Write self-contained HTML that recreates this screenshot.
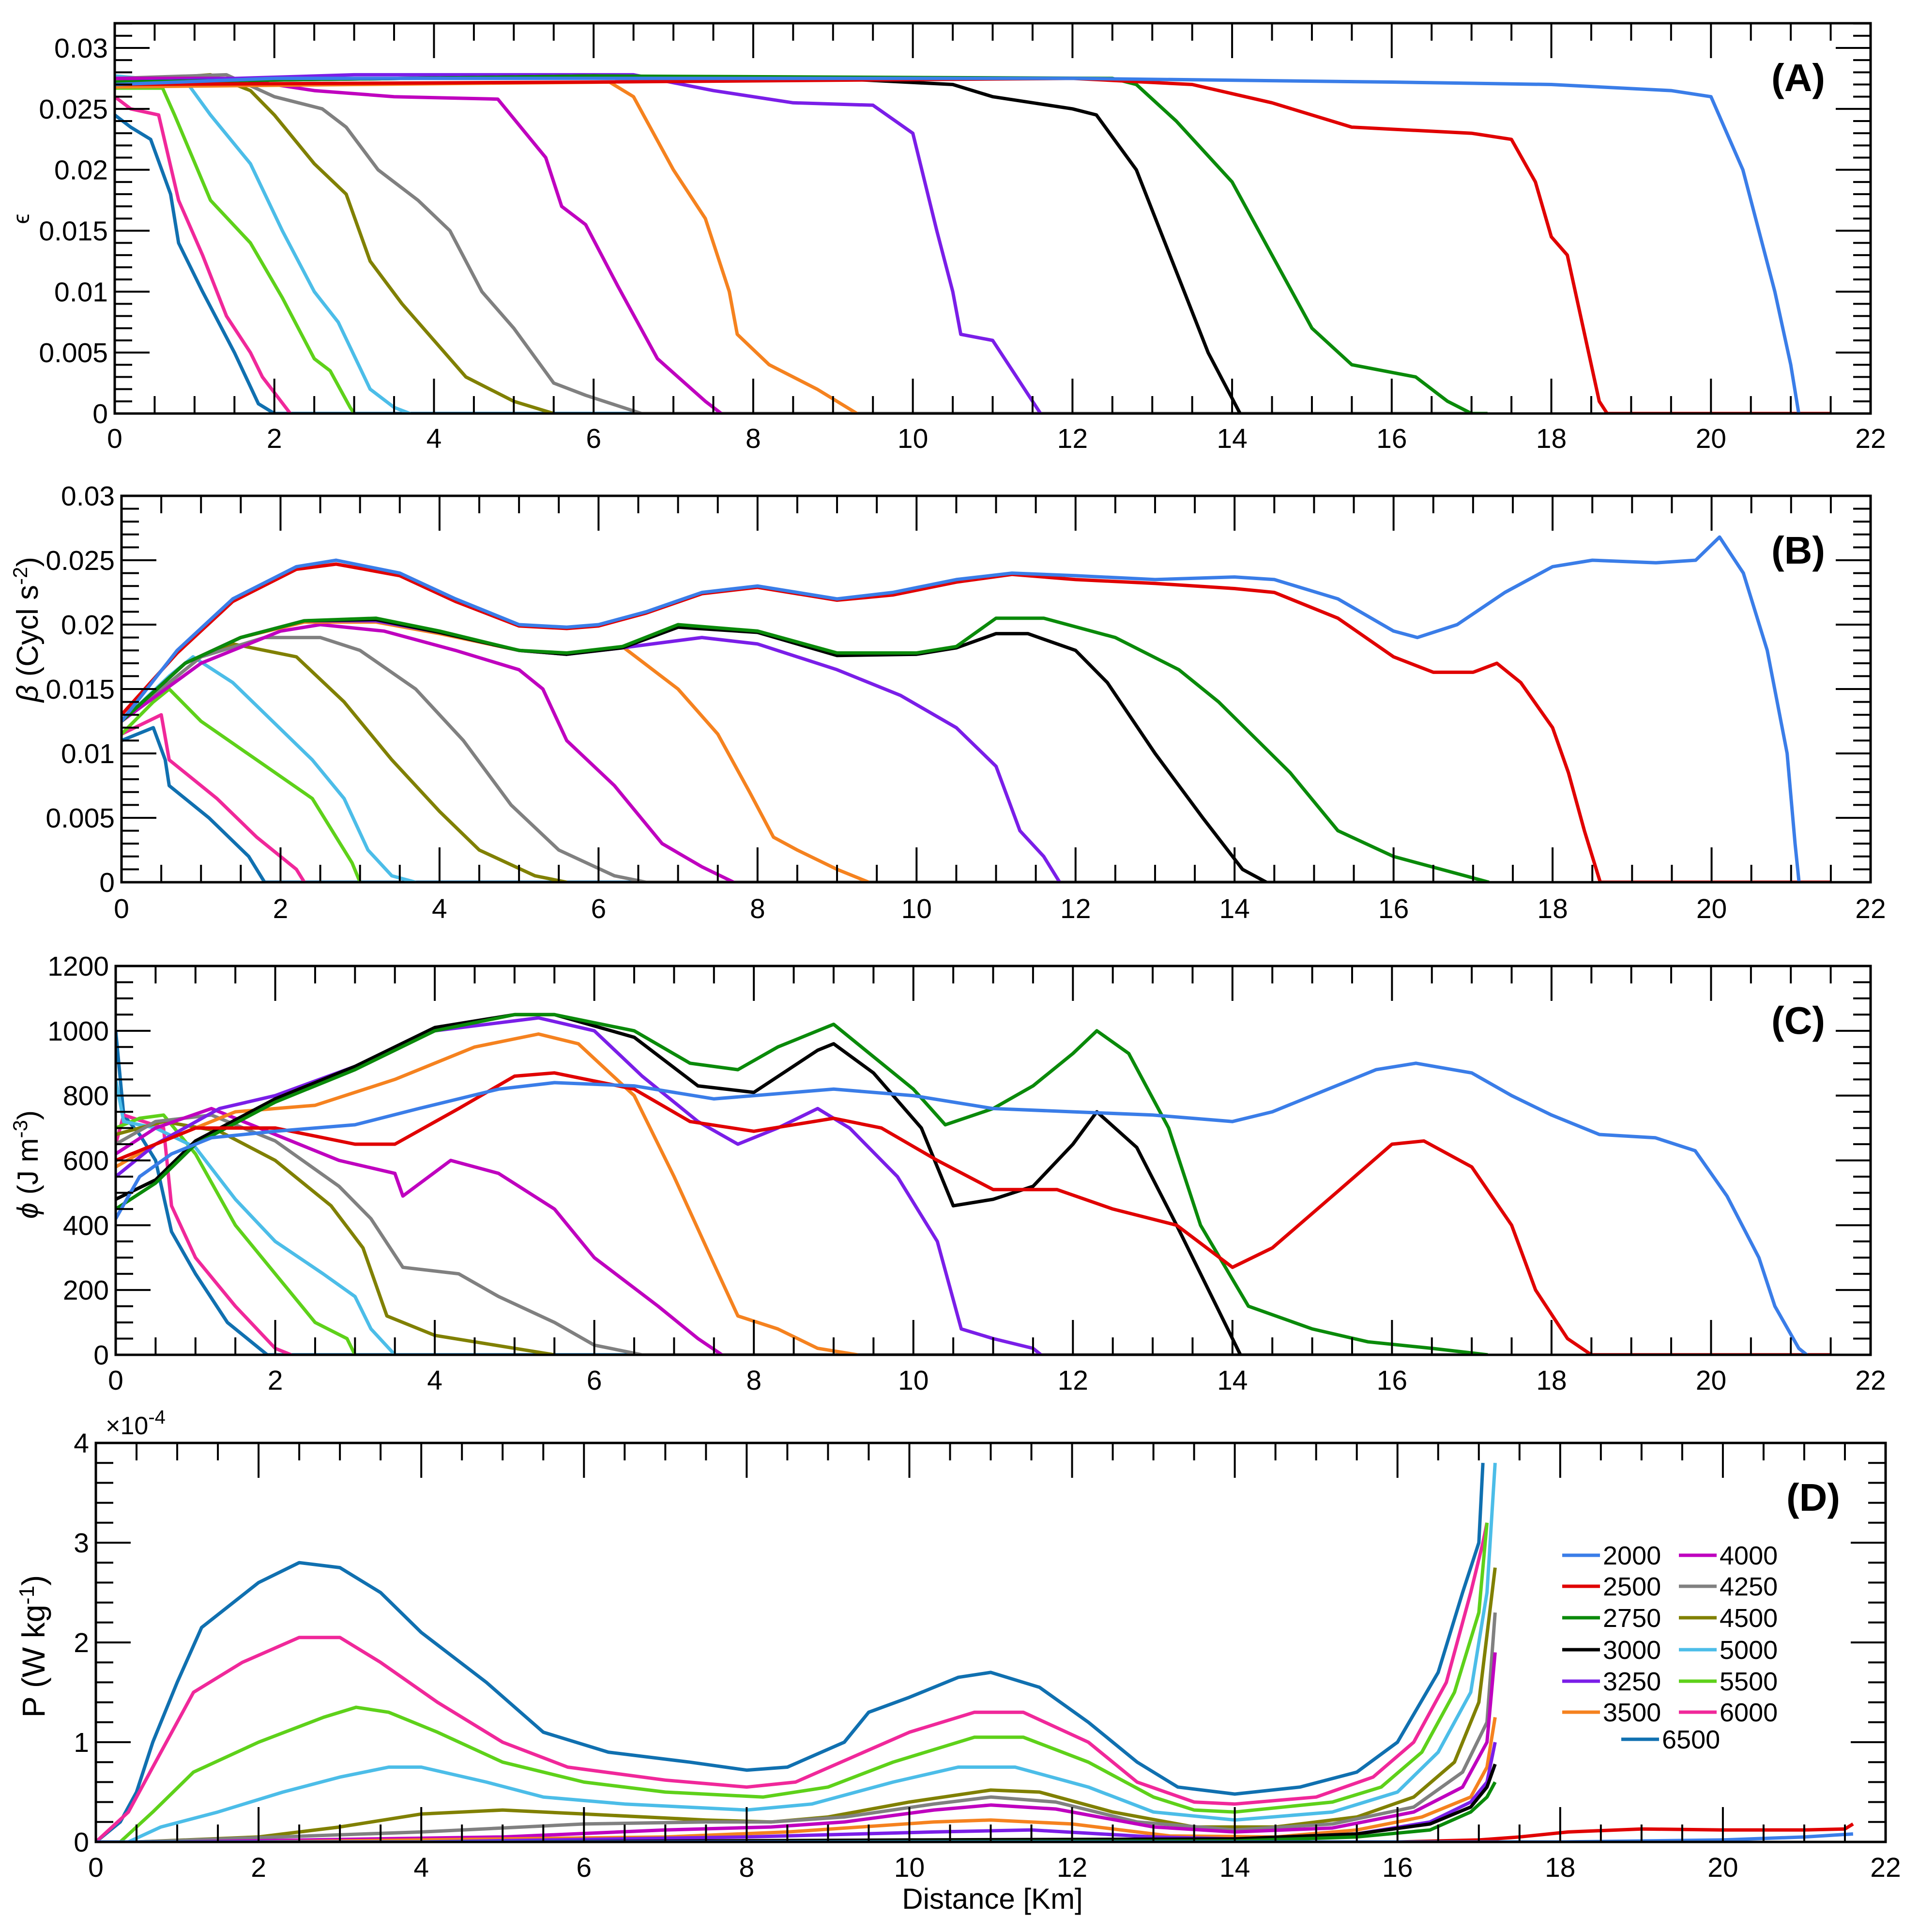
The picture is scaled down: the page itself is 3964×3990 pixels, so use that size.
<!DOCTYPE html>
<html><head><meta charset="utf-8">
<style>
html,body{margin:0;padding:0;background:#fff;}
svg{display:block;font-family:"Liberation Sans",Arial,sans-serif;}
</style></head>
<body>
<svg id="fig" width="3964" height="3990" viewBox="0 0 3964 3990" xmlns="http://www.w3.org/2000/svg"></svg>
<script>
// ===== Series names & colours =====
const seriesNames = ["2000","2500","2750","3000","3250","3500","4000","4250","4500","5000","5500","6000","6500"];
const seriesColors = ["#3a7de8","#e00000","#0a8a0a","#000000","#7a1ee8","#f5821f","#bf00bf","#808080","#808000","#4cbde8","#5ed11a","#f0289a","#1070b0"];

// ===== Panel A (epsilon) =====
const A_x_2000=[0,2,6,12,16,18,19.5,20,20.2,20.4,20.6,20.8,21.0,21.1];
const A_y_2000=[0.027,0.0275,0.0275,0.0275,0.0272,0.027,0.0265,0.026,0.023,0.020,0.015,0.010,0.004,0];
const A_x_2500=[0,6,12,13.5,14.5,15.5,17,17.5,17.8,18.0,18.2,18.4,18.6,18.7,21.5];
const A_y_2500=[0.027,0.0272,0.0275,0.027,0.0255,0.0235,0.023,0.0225,0.019,0.0145,0.013,0.007,0.001,0,0];
const A_x_2750=[0,6,12.5,12.8,13.3,14,14.5,15,15.5,16.3,16.7,17,17.2];
const A_y_2750=[0.0272,0.0277,0.0275,0.027,0.024,0.019,0.013,0.007,0.004,0.003,0.001,0,0];
const A_x_3000=[0,6,9,10.5,11,12,12.3,12.8,13.1,13.4,13.7,14.1];
const A_y_3000=[0.0272,0.0277,0.0275,0.027,0.026,0.025,0.0245,0.020,0.015,0.010,0.005,0];
const A_x_3250=[0,3,6.5,7.5,8.5,9.5,10,10.3,10.5,10.6,11.0,11.3,11.6];
const A_y_3250=[0.0272,0.0278,0.0278,0.0265,0.0255,0.0253,0.023,0.015,0.010,0.0065,0.006,0.003,0];
const A_x_3500=[0,3,6.2,6.5,7.0,7.4,7.7,7.8,8.2,8.8,9.3];
const A_y_3500=[0.0268,0.027,0.0272,0.026,0.020,0.016,0.010,0.0065,0.004,0.002,0];
const A_x_4000=[0,1.5,2.5,3.5,4.8,5.4,5.6,5.9,6.3,6.8,7.4,7.6];
const A_y_4000=[0.0275,0.0275,0.0265,0.026,0.0258,0.021,0.017,0.0155,0.0105,0.0045,0.001,0];
const A_x_4250=[0,1.4,2,2.6,2.9,3.3,3.8,4.2,4.6,5.0,5.5,5.9,6.6,17.2];
const A_y_4250=[0.0275,0.0278,0.026,0.025,0.0235,0.020,0.0175,0.015,0.010,0.007,0.0025,0.0015,0,0];
const A_x_4500=[0,1.2,1.7,2.0,2.5,2.9,3.2,3.6,4.0,4.4,5.0,5.5];
const A_y_4500=[0.0272,0.0278,0.0265,0.0245,0.0205,0.018,0.0125,0.009,0.006,0.003,0.001,0];
const A_x_5000=[0,0.9,1.2,1.7,2.1,2.5,2.8,3.2,3.5,3.7];
const A_y_5000=[0.0277,0.0272,0.0245,0.0205,0.015,0.010,0.0075,0.002,0.0005,0];
const A_x_5500=[0,0.6,0.75,1.2,1.7,2.1,2.5,2.7,2.95,3.0];
const A_y_5500=[0.0267,0.0267,0.0245,0.0175,0.014,0.0095,0.0045,0.0035,0.0005,0];
const A_x_6000=[0,0.2,0.55,0.8,1.1,1.4,1.7,1.85,2.2];
const A_y_6000=[0.026,0.025,0.0245,0.0175,0.013,0.008,0.005,0.003,0];
const A_x_6500=[0,0.2,0.45,0.7,0.8,1.1,1.5,1.8,2.0,6.6];
const A_y_6500=[0.0245,0.0235,0.0225,0.018,0.014,0.010,0.005,0.0008,0,0];

// ===== Panel B (beta) =====
const B_x_2000=[0,0.7,1.4,2.2,2.7,3.5,4.2,5.0,5.6,6.0,6.6,7.3,8.0,9.0,9.7,10.5,11.2,12,13,14,14.5,15.3,16,16.3,16.8,17.4,18,18.5,19.3,19.8,20.1,20.4,20.7,20.95,21.05,21.1];
const B_y_2000=[0.0125,0.018,0.022,0.0245,0.025,0.024,0.022,0.020,0.0198,0.020,0.021,0.0225,0.023,0.022,0.0225,0.0235,0.024,0.0238,0.0235,0.0237,0.0235,0.022,0.0195,0.019,0.020,0.0225,0.0245,0.025,0.0248,0.025,0.0268,0.024,0.018,0.010,0.003,0];
const B_x_2500=[0,0.7,1.4,2.2,2.7,3.5,4.2,5.0,5.6,6.0,6.6,7.3,8.0,9.0,9.7,10.5,11.2,12,13,14,14.5,15.3,16,16.5,17,17.3,17.6,18.0,18.2,18.4,18.6,21.5];
const B_y_2500=[0.013,0.0178,0.0218,0.0243,0.0247,0.0238,0.0218,0.0199,0.0197,0.0199,0.0209,0.0224,0.0229,0.0219,0.0223,0.0233,0.0239,0.0235,0.0232,0.0228,0.0225,0.0205,0.0175,0.0163,0.0163,0.017,0.0155,0.012,0.0085,0.004,0,0];
const B_x_2750=[0,0.8,1.5,2.3,3.2,4.0,5.0,5.6,6.3,7.0,8.0,9.0,10,10.5,11.0,11.6,12.5,13.3,13.8,14.7,15.3,16,16.6,17.2];
const B_y_2750=[0.0125,0.017,0.019,0.0203,0.0205,0.0195,0.018,0.0178,0.0183,0.020,0.0195,0.0178,0.0178,0.0183,0.0205,0.0205,0.019,0.0165,0.014,0.0085,0.004,0.002,0.001,0];
const B_x_3000=[0,0.8,1.5,2.3,3.2,4.0,5.0,5.6,6.3,7.0,8.0,9.0,10,10.5,11.0,11.4,12,12.4,13.0,13.6,14.1,14.4];
const B_y_3000=[0.0125,0.017,0.019,0.0203,0.0204,0.0194,0.018,0.0177,0.0182,0.0198,0.0194,0.0176,0.0177,0.0182,0.0193,0.0193,0.018,0.0155,0.010,0.005,0.001,0];
const B_x_3250=[0,0.8,1.5,2.3,3.2,4.0,5.0,5.6,6.3,7.3,8.0,9.0,9.8,10.5,11.0,11.3,11.6,11.8];
const B_y_3250=[0.0125,0.017,0.019,0.0203,0.0203,0.0194,0.018,0.0177,0.0182,0.019,0.0185,0.0165,0.0145,0.012,0.009,0.004,0.002,0];
const B_x_3500=[0,0.8,1.5,2.3,3.2,4.0,5.0,5.6,6.3,7.0,7.5,7.9,8.2,8.5,9.0,9.4];
const B_y_3500=[0.0125,0.017,0.019,0.0202,0.0202,0.0193,0.018,0.0177,0.0183,0.015,0.0115,0.007,0.0035,0.0025,0.001,0];
const B_x_4000=[0,1.0,2.0,2.5,3.3,4.2,5.0,5.3,5.6,6.2,6.8,7.3,7.7];
const B_y_4000=[0.0125,0.017,0.0195,0.020,0.0195,0.018,0.0165,0.015,0.011,0.0075,0.003,0.0012,0];
const B_x_4250=[0,1,1.8,2.5,3.0,3.7,4.3,4.9,5.5,6.2,6.6,17.2];
const B_y_4250=[0.0125,0.0175,0.019,0.019,0.018,0.015,0.011,0.006,0.0025,0.0005,0,0];
const B_x_4500=[0,1.0,1.4,2.2,2.8,3.4,4.0,4.5,5.2,5.6];
const B_y_4500=[0.0125,0.0175,0.0185,0.0175,0.014,0.0095,0.0055,0.0025,0.0005,0];
const B_x_5000=[0,0.6,0.9,1.4,1.9,2.4,2.8,3.1,3.4,3.7];
const B_y_5000=[0.0125,0.016,0.0175,0.0155,0.0125,0.0095,0.0065,0.0025,0.0005,0];
const B_x_5500=[0,0.4,0.6,1.0,1.7,2.4,2.7,2.9,3.0];
const B_y_5500=[0.0115,0.014,0.015,0.0125,0.0095,0.0065,0.0035,0.0015,0];
const B_x_6000=[0,0.5,0.6,1.2,1.7,2.2,2.3];
const B_y_6000=[0.0115,0.013,0.0095,0.0065,0.0035,0.001,0];
const B_x_6500=[0,0.4,0.55,0.6,1.1,1.6,1.8,6.6];
const B_y_6500=[0.011,0.012,0.0095,0.0075,0.005,0.002,0,0];

// ===== Panel C (phi) =====
const C_x_2000=[0,0.3,0.7,1.2,2,3,3.8,4.8,5.5,6.5,7.5,8.0,9,10,11,12,13,14,14.5,15.2,15.8,16.3,17.0,17.5,18,18.6,19.3,19.8,20.2,20.6,20.8,21.1,21.2];
const C_y_2000=[420,550,620,670,690,710,760,820,840,830,790,800,820,800,760,750,740,720,750,820,880,900,870,800,740,680,670,630,490,300,150,20,0];
const C_x_2500=[0,0.4,1,2,3,3.5,4.3,5.0,5.5,6.5,7.2,8,9,9.6,10.3,11.0,11.8,12.5,13.3,14.0,14.5,15.3,16,16.4,17,17.5,17.8,18.2,18.5,21.5];
const C_y_2500=[600,640,700,700,650,650,760,860,870,820,720,690,730,700,600,510,510,450,400,270,330,500,650,660,580,400,200,50,0,0];
const C_x_2750=[0,0.5,1,2,3,4,5,5.5,6.5,7.2,7.8,8.3,8.8,9.0,9.4,10.0,10.4,11,11.5,12.0,12.3,12.7,13.2,13.6,14.2,15,15.7,16.5,17.2];
const C_y_2750=[450,530,650,780,880,1000,1050,1050,1000,900,880,950,1000,1020,940,820,710,760,830,930,1000,930,700,400,150,80,40,20,0];
const C_x_3000=[0,0.5,1,2,3,4,5,5.5,6.5,7.3,8.0,8.8,9.0,9.5,10.1,10.5,11.0,11.5,12.0,12.3,12.8,13.3,13.8,14.1];
const C_y_3000=[480,540,660,790,890,1010,1050,1050,980,830,810,940,960,870,700,460,480,520,650,750,640,400,150,0];
const C_x_3250=[0,0.5,1.3,2,3,4,5.3,6,6.6,7.3,7.8,8.3,8.8,9.2,9.8,10.3,10.6,11,11.5,11.6];
const C_y_3250=[550,650,760,800,890,1000,1040,1000,860,720,650,700,760,700,550,350,80,50,20,0];
const C_x_3500=[0,0.5,1.5,2.5,3.5,4.5,5.3,5.8,6.5,7.0,7.5,7.8,8.3,8.8,9.3];
const C_y_3500=[580,650,750,770,850,950,990,960,800,550,280,120,80,20,0];
const C_x_4000=[0,0.5,1.2,2,2.8,3.5,3.6,4.2,4.8,5.5,6.0,6.8,7.3,7.6];
const C_y_4000=[620,700,760,680,600,560,490,600,560,450,300,150,50,0];
const C_x_4250=[0,0.5,1.2,2,2.8,3.2,3.6,4.3,4.8,5.5,6.0,6.6,17.2];
const C_y_4250=[650,720,740,660,520,420,270,250,180,100,30,0,0];
const C_x_4500=[0,0.6,1.3,2.0,2.7,3.1,3.4,4.0,5.0,5.5];
const C_y_4500=[680,720,690,600,460,330,120,60,20,0];
const C_x_5000=[0,0.1,0.5,1.0,1.5,2.0,2.6,3.0,3.2,3.5];
const C_y_5000=[850,720,700,640,480,350,250,180,80,0];
const C_x_5500=[0,0.3,0.6,1.0,1.5,2.0,2.5,2.9,3.0];
const C_y_5500=[700,730,740,620,400,250,100,50,0];
const C_x_6000=[0,0.1,0.6,0.7,1.0,1.5,2.0,2.2];
const C_y_6000=[650,740,700,460,300,150,20,0];
const C_x_6500=[0,0.1,0.3,0.5,0.7,1.0,1.4,1.8,1.9,6.6];
const C_y_6500=[1000,740,680,600,380,250,100,20,0,0];

// ===== Panel D (P, x1e-4) =====
const D_x_2000=[0,18,20,21,21.6];
const D_y_2000=[0,0,0.02,0.05,0.08];
const D_x_2500=[0,16,17,17.5,18.1,19,20,21,21.5,21.6];
const D_y_2500=[0,0,0.02,0.05,0.1,0.13,0.12,0.12,0.13,0.18];
const D_x_2750=[0,8,14,15.5,16.4,16.9,17.1,17.2];
const D_y_2750=[0,0,0.01,0.05,0.12,0.3,0.45,0.6];
const D_x_3000=[0,5,10,14,15.5,16.4,16.9,17.1,17.2];
const D_y_3000=[0,0,0.02,0.03,0.08,0.18,0.35,0.55,0.78];
const D_x_3250=[0,4,8,10.3,11.5,13,14,15.5,16.4,16.9,17.1,17.2];
const D_y_3250=[0,0,0.05,0.1,0.12,0.05,0.03,0.08,0.2,0.4,0.6,1.0];
const D_x_3500=[0,2,7,8.5,10.3,11,12,13.2,14.5,15.5,16.3,16.9,17.1,17.2];
const D_y_3500=[0,0,0.05,0.1,0.2,0.22,0.18,0.06,0.05,0.12,0.25,0.45,0.75,1.25];
const D_x_4000=[0,1,5,7,8.3,9.2,10.3,11,11.8,13,14,15.2,16.2,16.8,17.1,17.2];
const D_y_4000=[0,0,0.05,0.12,0.15,0.2,0.32,0.37,0.33,0.15,0.1,0.14,0.3,0.55,1.0,1.9];
const D_x_4250=[0,0.5,4,6,7.5,8.3,9.2,10.3,11.0,11.8,12.8,14,15.2,16.2,16.8,17.1,17.2];
const D_y_4250=[0,0,0.1,0.18,0.2,0.2,0.25,0.38,0.45,0.4,0.2,0.12,0.18,0.35,0.7,1.2,2.3];
const D_x_4500=[0,0.5,2,3,4,5,6,7.5,8.3,9,10,11,11.6,12.5,13.5,14.5,15.5,16.2,16.7,17.0,17.2];
const D_y_4500=[0,0,0.05,0.15,0.28,0.32,0.28,0.22,0.2,0.25,0.4,0.52,0.5,0.3,0.15,0.15,0.25,0.45,0.8,1.4,2.75];
const D_x_5000=[0,0.4,0.8,1.5,2.3,3.0,3.6,4.0,4.8,5.5,6.5,8.0,8.8,9.8,10.6,11.3,12.2,13,14,15.2,16.0,16.5,16.9,17.1,17.2];
const D_y_5000=[0,0,0.15,0.3,0.5,0.65,0.75,0.75,0.6,0.45,0.38,0.32,0.38,0.6,0.75,0.75,0.55,0.3,0.22,0.3,0.5,0.9,1.5,2.5,3.8];
const D_x_5500=[0,0.3,0.7,1.2,2.0,2.8,3.2,3.6,4.2,5.0,6.0,7.0,8.2,9.0,9.8,10.8,11.4,12.2,13,13.5,14,15.2,15.8,16.3,16.7,17.0,17.1];
const D_y_5500=[0,0,0.3,0.7,1.0,1.25,1.35,1.3,1.1,0.8,0.6,0.5,0.45,0.55,0.8,1.05,1.05,0.8,0.45,0.32,0.3,0.4,0.55,0.9,1.5,2.3,3.2];
const D_x_6000=[0,0.4,0.8,1.2,1.8,2.5,3.0,3.5,4.2,5.0,5.8,7,8.0,8.6,9.3,10,10.8,11.4,12.2,12.8,13.5,14,15,15.7,16.2,16.6,16.9,17.05,17.1];
const D_y_6000=[0,0.3,0.9,1.5,1.8,2.05,2.05,1.8,1.4,1.0,0.75,0.62,0.55,0.6,0.85,1.1,1.3,1.3,1.0,0.6,0.4,0.38,0.45,0.65,1.0,1.6,2.5,3.0,3.2];
const D_x_6500=[0,0.3,0.5,0.7,1.0,1.3,2.0,2.5,3.0,3.5,4.0,4.8,5.5,6.3,7.3,8.0,8.5,9.2,9.5,10.0,10.6,11.0,11.6,12.2,12.8,13.3,14,14.8,15.5,16.0,16.5,16.8,17.0,17.05];
const D_y_6500=[0,0.2,0.5,1.0,1.6,2.15,2.6,2.8,2.75,2.5,2.1,1.6,1.1,0.9,0.8,0.72,0.75,1.0,1.3,1.45,1.65,1.7,1.55,1.2,0.8,0.55,0.48,0.55,0.7,1.0,1.7,2.5,3.0,3.8];

// ===== Tick labels =====
const A_yTicks=[0,0.005,0.01,0.015,0.02,0.025,0.03];
const A_yTickLabels=["0","0.005","0.01","0.015","0.02","0.025","0.03"];
const B_yTicks=[0,0.005,0.01,0.015,0.02,0.025,0.03];
const B_yTickLabels=["0","0.005","0.01","0.015","0.02","0.025","0.03"];
const C_yTicks=[0,200,400,600,800,1000,1200];
const C_yTickLabels=["0","200","400","600","800","1000","1200"];
const D_yTicks=[0,1,2,3,4];
const D_yTickLabels=["0","1","2","3","4"];
const xTicks=[0,2,4,6,8,10,12,14,16,18,20,22];
const xTickLabels=["0","2","4","6","8","10","12","14","16","18","20","22"];

const NS="http://www.w3.org/2000/svg";
const svg=document.getElementById('fig');
function mk(tag,parent){const e=document.createElementNS(NS,tag);parent.appendChild(e);return e;}

function drawPanel(cfg){
  const g=mk('g',svg);
  
  
  const X=v=>cfg.L+(v-0)*(cfg.R-cfg.L)/22;
  const Y=v=>cfg.B-(v-cfg.ymin)*(cfg.B-cfg.refPix)/(cfg.refVal-cfg.ymin);
  const cp=mk('clipPath',g); cp.setAttribute('id','clip'+cfg.id);
  const cr=mk('rect',cp); cr.setAttribute('x',cfg.L); cr.setAttribute('y',cfg.T); cr.setAttribute('width',cfg.R-cfg.L); cr.setAttribute('height',cfg.B-cfg.T);
  const sg=mk('g',g); sg.setAttribute('clip-path','url(#clip'+cfg.id+')');
  
  
  for(let i=seriesNames.length-1;i>=0;i--){
    const xs=cfg.xs[i], ys=cfg.ys[i];
    const p=mk('polyline',sg);
    p.setAttribute('points',xs.map((x,k)=>X(x).toFixed(1)+','+Y(ys[k]).toFixed(1)).join(' '));
    p.setAttribute('fill','none'); p.setAttribute('stroke',seriesColors[i]); p.setAttribute('stroke-width','7');
    p.setAttribute('stroke-linejoin','round');
    
    
  }
  const tg=mk('g',g); tg.setAttribute('stroke','#000'); tg.setAttribute('stroke-width','4');
  
  
  for(let v=0; v<=22.001; v+=0.5){
    const maj=Math.abs(v/2-Math.round(v/2))<1e-6; const len=maj?72:36; const x=X(v);
    let l=mk('line',tg); l.setAttribute('x1',x); l.setAttribute('x2',x); l.setAttribute('y1',cfg.B); l.setAttribute('y2',cfg.B-len);
    l=mk('line',tg); l.setAttribute('x1',x); l.setAttribute('x2',x); l.setAttribute('y1',cfg.T); l.setAttribute('y2',cfg.T+len);
  }
  const nMin=Math.round((cfg.ymaxTick-cfg.ymin)/cfg.minor);
  for(let k=0;k<=nMin;k++){
    const v=cfg.ymin+k*cfg.minor; const y=Y(v); if(y<cfg.T-1) continue;
    const maj=Math.abs(v/cfg.major-Math.round(v/cfg.major))<1e-6; const len=maj?72:36;
    let l=mk('line',tg); l.setAttribute('x1',cfg.L); l.setAttribute('x2',cfg.L+len); l.setAttribute('y1',y); l.setAttribute('y2',y);
    l=mk('line',tg); l.setAttribute('x1',cfg.R); l.setAttribute('x2',cfg.R-len); l.setAttribute('y1',y); l.setAttribute('y2',y);
  }
  const fr=mk('rect',g); fr.setAttribute('x',cfg.L); fr.setAttribute('y',cfg.T); fr.setAttribute('width',cfg.R-cfg.L); fr.setAttribute('height',cfg.B-cfg.T);
  fr.setAttribute('fill','none'); fr.setAttribute('stroke','#000'); fr.setAttribute('stroke-width','5');
  
  
  cfg.yTicks.forEach((v,k)=>{
    const t=mk('text',g); t.setAttribute('x',cfg.L-14); t.setAttribute('y',Y(v)+20); t.setAttribute('text-anchor','end');
    t.setAttribute('font-size','57'); t.textContent=cfg.yLabels[k];
    
    
  });
  xTicks.forEach((v,k)=>{
    const t=mk('text',g); t.setAttribute('x',X(v)); t.setAttribute('y',cfg.xLabY); t.setAttribute('text-anchor','middle');
    t.setAttribute('font-size','57'); t.textContent=xTickLabels[k];
    
    
  });
  const pl=mk('text',g); pl.setAttribute('x',cfg.R-94); pl.setAttribute('y',cfg.T+140); pl.setAttribute('text-anchor','end');
  pl.setAttribute('font-size','80'); pl.setAttribute('font-weight','bold'); pl.textContent='('+cfg.id+')';
  
  
  return {X,Y,g};
}

drawPanel({id:'A',name:'panel-a-epsilon',L:237,R:3864,T:48,B:854,ymin:0,refVal:0.03,refPix:99,ymaxTick:0.032,major:0.005,minor:0.001,
  xs:[A_x_2000,A_x_2500,A_x_2750,A_x_3000,A_x_3250,A_x_3500,A_x_4000,A_x_4250,A_x_4500,A_x_5000,A_x_5500,A_x_6000,A_x_6500],
  ys:[A_y_2000,A_y_2500,A_y_2750,A_y_3000,A_y_3250,A_y_3500,A_y_4000,A_y_4250,A_y_4500,A_y_5000,A_y_5500,A_y_6000,A_y_6500],
  yTicks:A_yTicks,yLabels:A_yTickLabels,xLabY:925});
drawPanel({id:'B',name:'panel-b-beta',L:251,R:3864,T:1024,B:1822,ymin:0,refVal:0.03,refPix:1024,ymaxTick:0.03,major:0.005,minor:0.001,
  xs:[B_x_2000,B_x_2500,B_x_2750,B_x_3000,B_x_3250,B_x_3500,B_x_4000,B_x_4250,B_x_4500,B_x_5000,B_x_5500,B_x_6000,B_x_6500],
  ys:[B_y_2000,B_y_2500,B_y_2750,B_y_3000,B_y_3250,B_y_3500,B_y_4000,B_y_4250,B_y_4500,B_y_5000,B_y_5500,B_y_6000,B_y_6500],
  yTicks:B_yTicks,yLabels:B_yTickLabels,xLabY:1896});
drawPanel({id:'C',name:'panel-c-phi',L:239,R:3864,T:1995,B:2798,ymin:0,refVal:1200,refPix:1995,ymaxTick:1200,major:200,minor:50,
  xs:[C_x_2000,C_x_2500,C_x_2750,C_x_3000,C_x_3250,C_x_3500,C_x_4000,C_x_4250,C_x_4500,C_x_5000,C_x_5500,C_x_6000,C_x_6500],
  ys:[C_y_2000,C_y_2500,C_y_2750,C_y_3000,C_y_3250,C_y_3500,C_y_4000,C_y_4250,C_y_4500,C_y_5000,C_y_5500,C_y_6000,C_y_6500],
  yTicks:C_yTicks,yLabels:C_yTickLabels,xLabY:2870});
drawPanel({id:'D',name:'panel-d-power',L:198,R:3895,T:2980,B:3804,ymin:0,refVal:4,refPix:2980,ymaxTick:4,major:1,minor:0.2,
  xs:[D_x_2000,D_x_2500,D_x_2750,D_x_3000,D_x_3250,D_x_3500,D_x_4000,D_x_4250,D_x_4500,D_x_5000,D_x_5500,D_x_6000,D_x_6500],
  ys:[D_y_2000,D_y_2500,D_y_2750,D_y_3000,D_y_3250,D_y_3500,D_y_4000,D_y_4250,D_y_4500,D_y_5000,D_y_5500,D_y_6000,D_y_6500],
  yTicks:D_yTicks,yLabels:D_yTickLabels,xLabY:3876});

function title(txt,x,y,rot,name,size){
  const t=mk('text',svg); t.setAttribute('x',x); t.setAttribute('y',y); t.setAttribute('text-anchor','middle');
  t.setAttribute('font-size',size||48);
  if(rot) t.setAttribute('transform','rotate(-90 '+x+' '+y+')');
  t.innerHTML=txt;
  
  
  return t;
}
title('ϵ',60,452,true,'y-axis-title-a',48);
title('<tspan font-style="italic">β</tspan> (Cycl s<tspan dy="-22" font-size="42">-2</tspan><tspan dy="22">)</tspan>',78,1300,true,'y-axis-title-b',62);
title('<tspan font-style="italic">ϕ</tspan> (J m<tspan dy="-22" font-size="42">-3</tspan><tspan dy="22">)</tspan>',78,2405,true,'y-axis-title-c',60);
title('P (W kg<tspan dy="-22" font-size="44">-1</tspan><tspan dy="22">)</tspan>',92,3400,true,'y-axis-title-d',66);
title('Distance [Km]',2050,3942,false,'x-axis-title',60);
title('×10<tspan dy="-22" font-size="40">-4</tspan>',280,2962,false,'y-axis-multiplier',52);

const legRows=[3212,3276,3341,3407,3472,3536];
const lg=mk('g',svg);


seriesNames.forEach((n,i)=>{
  let lx,ty;
  if(i<6){lx=3227;ty=legRows[i];} else if(i<12){lx=3468;ty=legRows[i-6];} else {lx=3349;ty=3592;}
  const e=mk('g',lg);
  
  
  const l=mk('line',e); l.setAttribute('x1',lx); l.setAttribute('x2',lx+78); l.setAttribute('y1',ty); l.setAttribute('y2',ty);
  l.setAttribute('stroke',seriesColors[i]); l.setAttribute('stroke-width','7');
  const t=mk('text',e); t.setAttribute('x',lx+84); t.setAttribute('y',ty+19); t.setAttribute('font-size','54'); t.textContent=n;
});
</script>
</body></html>
